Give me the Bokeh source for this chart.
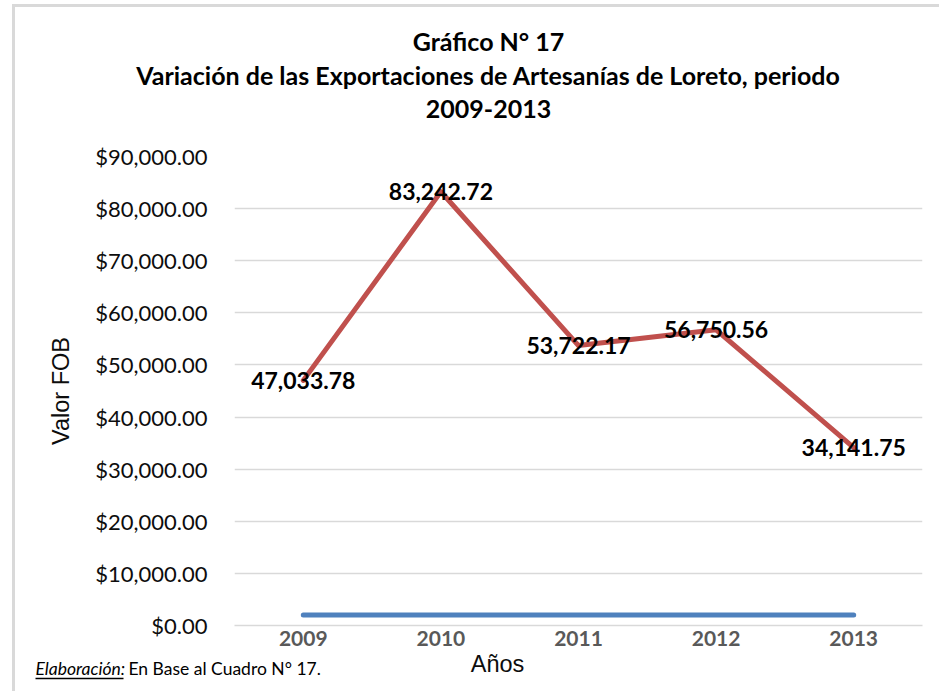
from bokeh.plotting import figure
from bokeh.layouts import column
from bokeh.models import (Range1d, FactorRange, FixedTicker, NumeralTickFormatter,
                          ColumnDataSource)
from bokeh.core.properties import value
from bokeh.embed import file_html
from bokeh.resources import INLINE

# ---- data ----
years = ["2009", "2010", "2011", "2012", "2013"]
fob_values = [47033.78, 83242.72, 53722.17, 56750.56, 34141.75]
year_series = [2009, 2010, 2011, 2012, 2013]
y_ticks = [0, 10000, 20000, 30000, 40000, 50000, 60000, 70000, 80000, 90000]
title_lines = ["Gráfico N° 17",
               "Variación de las Exportaciones de Artesanías de Loreto, periodo",
               "2009-2013"]
y_label = "Valor FOB"
x_label = "Años"
note_italic = "Elaboración:"
note_rest = "En Base al Cuadro N° 17."

FONT = "Lato"
W = 939


def blank(h):
    f = figure(width=W, height=h, x_range=Range1d(0, W), y_range=Range1d(h, 0),
               output_backend="svg", toolbar_location=None, title=None,
               x_axis_location=None, y_axis_location=None,
               min_border=0, min_border_left=0, min_border_right=0,
               min_border_top=0, min_border_bottom=0)
    f.frame_align = False
    f.xgrid.visible = False
    f.ygrid.visible = False
    f.outline_line_color = None
    f.background_fill_color = None
    f.border_fill_color = None
    return f


# ---- title block ----
top = blank(136)
top.text(x=[488, 488, 488], y=[40, 74, 108], text=title_lines,
         text_font=value(FONT), text_font_style="bold", text_font_size="25px",
         text_color="black", text_align="center", text_baseline="middle")

# ---- main chart ----
src = ColumnDataSource(dict(
    x=years,
    fob=fob_values,
    yr=year_series,
    lbl=[f"{v:,.2f}" for v in fob_values],
))

p = figure(width=W, height=512,
           x_range=FactorRange(*years, range_padding=0),
           y_range=Range1d(0, 90000),
           output_backend="svg", toolbar_location=None, title=None,
           min_border_left=234, min_border_right=17,
           min_border_top=20, min_border_bottom=22)
p.frame_align = False
p.outline_line_color = None
p.background_fill_color = None
p.border_fill_color = None

p.xgrid.grid_line_color = None
p.ygrid.grid_line_color = "#d9d9d9"
p.ygrid.grid_line_width = 1.5
p.yaxis.ticker = FixedTicker(ticks=y_ticks)

p.yaxis.formatter = NumeralTickFormatter(format="$0,0.00")
p.yaxis.axis_line_color = None
p.yaxis.major_tick_line_color = None
p.yaxis.minor_tick_line_color = None
p.yaxis.major_label_text_font = FONT
p.yaxis.major_label_text_font_size = "22px"
p.yaxis.major_label_text_color = "#0d0d0d"
p.yaxis.major_label_standoff = 21
p.yaxis.axis_label = y_label
p.yaxis.axis_label_text_font = "Liberation Sans"
p.yaxis.axis_label_text_font_style = "normal"
p.yaxis.axis_label_text_font_size = "23.5px"
p.yaxis.axis_label_text_color = "#0d0d0d"
p.yaxis.axis_label_standoff = 18

p.xaxis.axis_line_color = "#d9d9d9"
p.xaxis.axis_line_width = 1.5
p.xaxis.major_tick_line_color = None
p.xaxis.minor_tick_line_color = None
p.xaxis.major_tick_out = 0
p.xaxis.major_tick_in = 0
p.xaxis.major_label_text_font = FONT
p.xaxis.major_label_text_font_style = "bold"
p.xaxis.major_label_text_font_size = "21px"
p.xaxis.major_label_text_color = "#595959"
p.xaxis.major_label_standoff = 5

p.line("x", "yr", source=src, line_color="#4F81BD", line_width=5, line_cap="round")
p.line("x", "fob", source=src, line_color="#C0504D", line_width=5, line_cap="round",
       line_join="round")
p.text("x", "fob", text="lbl", source=src, text_font=value(FONT),
       text_font_style="bold", text_font_size="23px", text_color="black",
       text_align="center", text_baseline="middle")

# ---- bottom block: axis title and footnote ----
bot = blank(43)
bot.text(x=[497], y=[15], text=[x_label], text_font=value("Liberation Sans"),
         text_font_size="23.5px", text_color="#0d0d0d",
         text_align="center", text_baseline="middle")
bot.text(x=[35], y=[20], text=[note_italic], text_font=value(FONT),
         text_font_style="italic", text_font_size="17.5px", text_color="black",
         text_align="left", text_baseline="middle")
bot.text(x=[128], y=[20], text=[note_rest], text_font=value(FONT),
         text_font_size="17.5px", text_color="black",
         text_align="left", text_baseline="middle")
bot.segment(x0=[35], x1=[123], y0=[30], y1=[30], line_color="black", line_width=1.5)

layout = column(top, p, bot, spacing=0, styles={
    "background": "linear-gradient(#d9d9d9,#d9d9d9) 12px 4px / 3px 100% no-repeat, "
                  "linear-gradient(#d9d9d9,#d9d9d9) 12px 4px / 100% 3px no-repeat, white"})

open("out.html", "w").write(file_html(layout, INLINE))
